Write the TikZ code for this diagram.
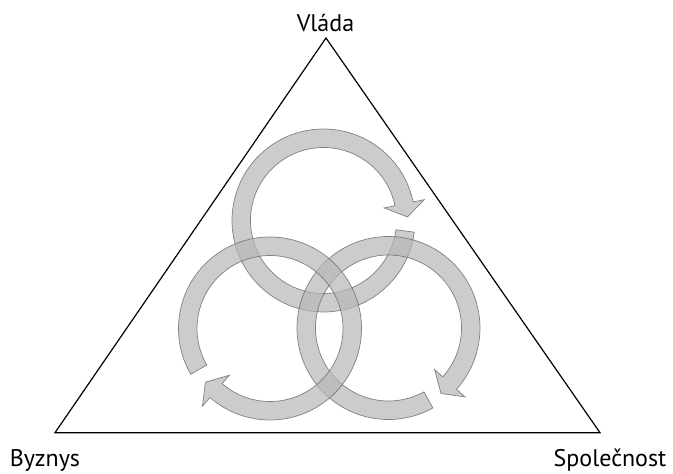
\documentclass[tikz,border=0pt]{standalone}
\usepackage{fontspec}
\setmainfont{PT Sans}
\usepackage{tikz}
\usetikzlibrary{calc}
\usepackage{xcolor}
\definecolor{colRing}{RGB}{182,182,182}
\definecolor{colRingBorder}{RGB}{105,105,105}
\tikzset{
    ring/.style={fill=colRing, fill opacity=0.7, draw=colRingBorder, draw opacity=0.8, line width=0.7pt, line join=miter},
    side/.style={draw=black, line width=1.2pt, line join=miter},
    corner/.style={anchor=base, font=\fontsize{24}{28}\selectfont}
}
% circular arrow: centre, angle of the tail (runs clockwise)
\newcommand{\ringarrow}[2]{%
    \begin{scope}[shift={#1}]
        \pgfmathsetmacro\tailang{#2}
        \pgfmathsetmacro\baseang{#2-341}
        \pgfmathsetmacro\tipang{#2-350.3}
        \filldraw[ring] (\tailang:91.5) arc[start angle=\tailang, end angle=\baseang, radius=91.5]
            -- (\baseang:103) -- (\tipang:84) -- (\baseang:62) -- (\baseang:73)
            arc[start angle=\baseang, end angle=\tailang, radius=73] -- cycle;
    \end{scope}}

\begin{document}
\begin{tikzpicture}[x=1pt, y=1pt]

    \useasboundingbox (0,0) rectangle (673,474);

    \coordinate (top) at (326,436);
    \coordinate (left) at (55,41.3);
    \coordinate (right) at (600,41.3);

    \node[corner] (vlada) at (325.5,442.3) {Vláda};
    \node[corner] (byznys) at (45,7.3) {Byznys};
    \node[corner] (spolecnost) at (610,7.3) {Společnost};

    \draw[side] (top) -- (left) -- (right) -- cycle;

    \ringarrow{(323.5,253.5)}{-7.3}
    \ringarrow{(388.5,146)}{-61}
    \ringarrow{(270,145.5)}{-150}

\end{tikzpicture}
\end{document}
